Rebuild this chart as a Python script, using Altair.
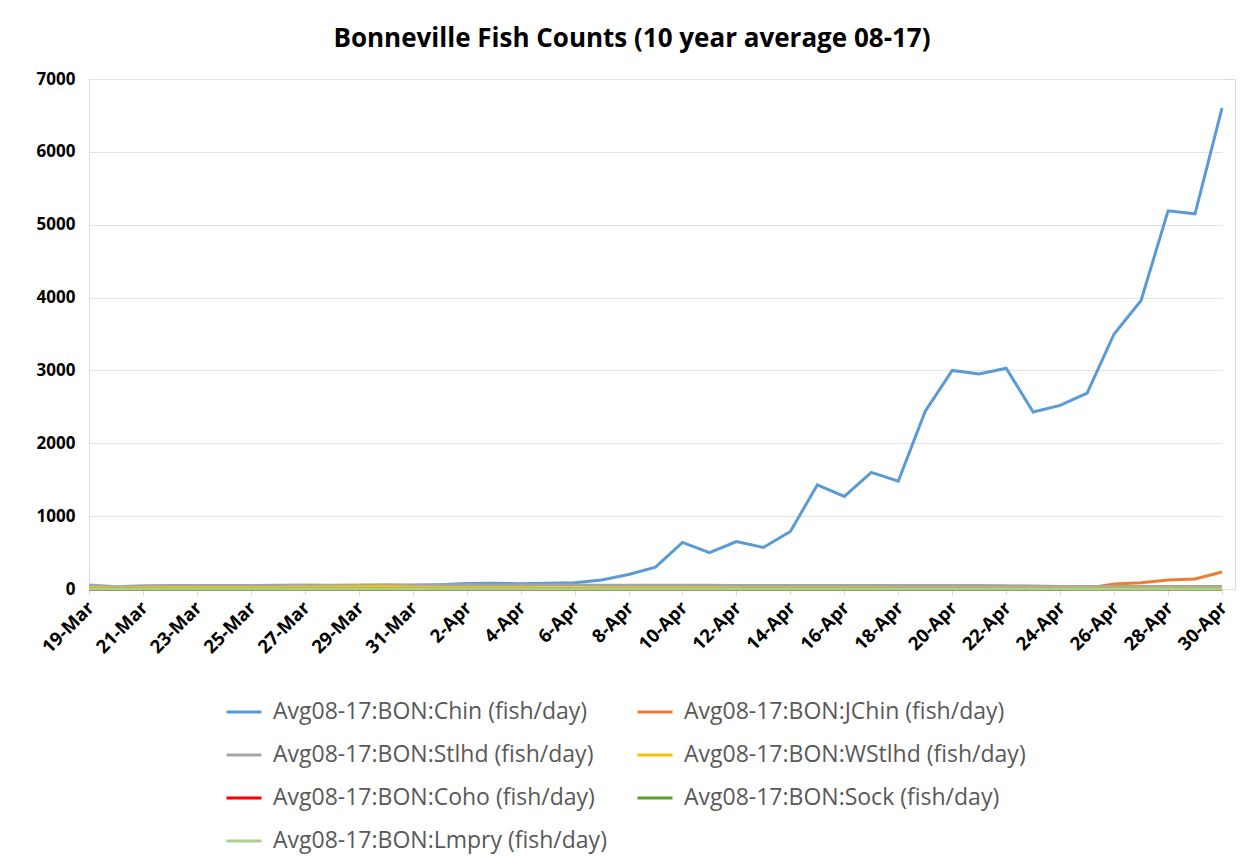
import altair as alt
import pandas as pd

dates = ["19-Mar","20-Mar","21-Mar","22-Mar","23-Mar","24-Mar","25-Mar","26-Mar","27-Mar","28-Mar",
         "29-Mar","30-Mar","31-Mar"] + [f"{d}-Apr" for d in range(1, 31)]

chin = [15, 12, 14, 16, 18, 20, 22, 25, 28, 30, 35, 40, 50,
        60, 75, 78, 72, 78, 85, 125, 200, 300, 640, 500, 650, 570, 790,
        1430, 1270, 1600, 1480, 2440, 3000, 2950, 3030, 2430, 2520, 2690,
        3500, 3960, 5190, 5150, 6600]
jchin = [0]*37 + [10, 70, 85, 125, 137, 233]
stlhd = [55, 30, 45, 48, 48, 48, 48, 50, 55, 50, 55, 58, 55,
         55, 55, 55, 55, 55, 55, 52, 50, 50, 50, 50, 48, 48, 48, 48,
         48, 48, 48, 48, 48, 48, 45, 40, 35, 35, 35, 35, 35, 35, 35]
wstlhd = [20, 15, 18, 20, 20, 20, 20, 22, 25, 28, 30, 35, 25,
          20, 20, 20, 20, 18, 18, 18, 18, 18, 18, 18, 15, 15, 15, 15,
          15, 15, 12, 12, 12, 12, 10, 10, 10, 10, 10, 10, 10, 10, 10]
coho = [0]*43
sock = [0]*43
lmpry = [2]*43

series_names = ["Avg08-17:BON:Chin (fish/day)", "Avg08-17:BON:JChin (fish/day)",
                "Avg08-17:BON:Stlhd (fish/day)", "Avg08-17:BON:WStlhd (fish/day)",
                "Avg08-17:BON:Coho (fish/day)", "Avg08-17:BON:Sock (fish/day)",
                "Avg08-17:BON:Lmpry (fish/day)"]
series_colors = ["#5B9BD5", "#ED7D31", "#A5A5A5", "#FFC000", "#FF0000", "#5AA02C", "#A9D18E"]
series_values = [chin, jchin, stlhd, wstlhd, coho, sock, lmpry]
y_ticks = [0, 1000, 2000, 3000, 4000, 5000, 6000, 7000]

rows = []
for name, vals in zip(series_names, series_values):
    for d, v in zip(dates, vals):
        rows.append({"date": d, "series": name, "value": v})
df = pd.DataFrame(rows)

FONT = "Open Sans"
W, H = 1146, 510

chart = alt.Chart(df).mark_line(strokeWidth=3).encode(
    x=alt.X("date:O", sort=dates, title=None,
            scale=alt.Scale(type="point", range=[0, 1133], padding=0),
            axis=alt.Axis(values=dates[::2], labelAngle=-45, labelFontWeight="bold",
                          labelFontSize=18.5, labelColor="#000000", labelFont=FONT,
                          domainColor="#D9D9D9", tickColor="#D9D9D9", tickSize=6,
                          labelPadding=3, labelOffset=-5, grid=False)),
    y=alt.Y("value:Q", title=None,
            scale=alt.Scale(domain=[0, 7000], nice=False),
            axis=alt.Axis(values=y_ticks, format="d", labelFontWeight="bold",
                          labelFontSize=17, labelColor="#000000", labelFont=FONT,
                          domain=False, ticks=False,
                          labelPadding=14, gridColor="#E3E3E3", gridWidth=1.2)),
    color=alt.Color("series:N", sort=series_names, title=None,
                    scale=alt.Scale(domain=series_names, range=series_colors),
                    legend=alt.Legend(orient="none", legendX=136, legendY=614,
                                      direction="horizontal",
                                      columns=2, columnPadding=24, rowPadding=12,
                                      symbolType="stroke", symbolSize=1225,
                                      symbolStrokeWidth=3, labelFontSize=23,
                                      labelFont=FONT, labelColor="#595959",
                                      labelLimit=500, labelOffset=10)),
).properties(
    width=W, height=H,
    title=alt.TitleParams("Bonneville Fish Counts (10 year average 08-17)",
                          font=FONT, fontSize=26, fontWeight="bold", color="#000000",
                          anchor="middle", dx=-30, offset=18),
    autosize=alt.AutoSizeParams(type="none"),
    padding={"left": 81, "top": 71, "right": 17, "bottom": 268},
).configure_view(stroke=None).configure(background="white")

chart.save("out.html", embed_options={"renderer": "svg", "actions": False})
